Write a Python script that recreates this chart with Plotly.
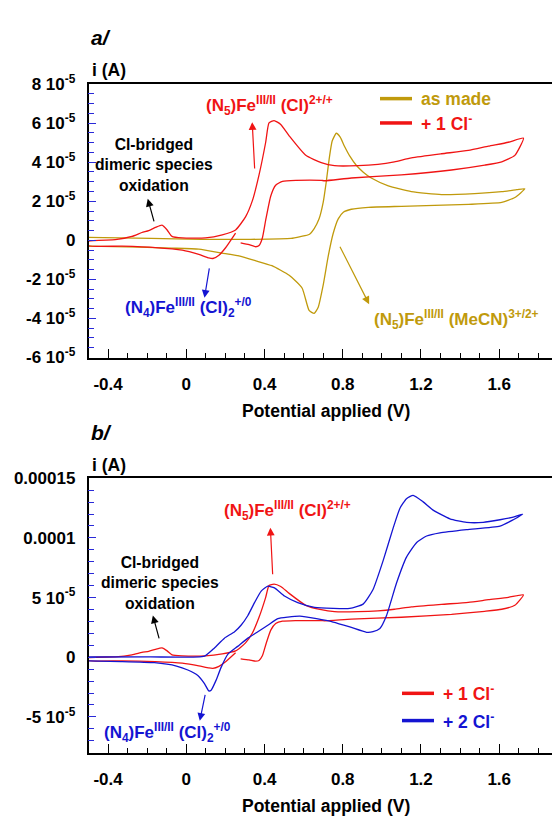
import numpy as np
import plotly.graph_objects as go

W, H = 552, 825
FONT = "Arial, Liberation Sans, sans-serif"

GOLD = "#c09a0c"
RED = "#f01414"
BLUE = "#1414d2"
TICKBLUE = "#2a2ad8"

# ---------------- data (potential in V, current in 1e-5 A) ----------------
# as made: forward scan to 1.73 V then back to -0.5 V
gold_v = [-0.5, -0.18, 0.074, 0.33, 0.536, 0.587, 0.628, 0.654, 0.679, 0.700, 0.715,
          0.731, 0.746, 0.767, 0.787, 0.808, 0.838, 0.869, 0.905, 0.946, 1.033, 1.151,
          1.305, 1.474, 1.613, 1.69, 1.731,
          1.68, 1.613, 1.444, 1.269, 1.10, 0.931, 0.844, 0.803, 0.777, 0.751, 0.726,
          0.700, 0.674, 0.654, 0.628, 0.592, 0.526, 0.438, 0.356, 0.269, 0.182, 0.064,
          -0.074, -0.244, -0.5]
gold_i = [0.15, 0.10, 0.05, 0.05, 0.10, 0.20, 0.30, 0.60, 1.10, 1.94, 2.94,
          4.19, 5.08, 5.48, 5.28, 4.83, 4.28, 3.84, 3.49, 3.19, 2.79, 2.49,
          2.34, 2.39, 2.49, 2.59, 2.64,
          2.19, 1.94, 1.84, 1.79, 1.74, 1.69, 1.59, 1.44, 1.10, 0.35, -0.80,
          -2.29, -3.44, -3.74, -3.59, -2.44, -1.79, -1.30, -1.05, -0.80, -0.65, -0.45,
          -0.40, -0.35, -0.30]

# + 1 Cl-: starts near 0.28 V, out to 1.72 V, back to -0.5 V, then up to 0.25 V
red_v = [0.278, 0.321, 0.355, 0.372, 0.389, 0.406, 0.432, 0.457, 0.492, 0.560, 0.690,
         0.707, 0.844, 1.10, 1.356, 1.526, 1.613, 1.68, 1.724,
         1.647, 1.545, 1.442, 1.305, 1.151, 1.064, 0.980, 0.878, 0.758, 0.690, 0.611,
         0.526, 0.483, 0.449, 0.423, 0.406, 0.372, 0.338, 0.303, 0.252, 0.184, 0.098,
         -0.021, -0.073, -0.098, -0.124, -0.158, -0.192, -0.227, -0.278, -0.363, -0.5,
         -0.5, -0.329, -0.158, -0.021, 0.064, 0.115, 0.136, 0.167, 0.201, 0.252]
red_i = [-0.13, -0.22, -0.33, -0.27, 0.12, 1.03, 2.27, 2.82, 3.02, 3.07, 3.07,
         3.05, 3.19, 3.35, 3.60, 3.85, 4.02, 4.35, 5.23,
         5.02, 4.82, 4.60, 4.43, 4.22, 4.02, 3.89, 3.82, 3.82, 3.98, 4.35,
         5.35, 5.93, 6.13, 6.01, 5.02, 3.35, 2.03, 1.20, 0.53, 0.28, 0.12,
         0.12, 0.20, 0.53, 0.78, 0.66, 0.50, 0.40, 0.20, 0.03, -0.05,
         -0.27, -0.30, -0.37, -0.50, -0.72, -0.90, -0.93, -0.76, -0.38, 0.37]

# + 2 Cl-
blue_v = [-0.5, -0.187, 0.093, 0.144, 0.195, 0.247, 0.280, 0.315, 0.349, 0.383, 0.417,
          0.451, 0.502, 0.570, 0.656, 0.751, 0.836, 0.904, 0.955, 1.007, 1.058, 1.092,
          1.126, 1.160, 1.211, 1.262, 1.348, 1.433, 1.518, 1.604, 1.672, 1.720,
          1.672, 1.604, 1.433, 1.297, 1.229, 1.178, 1.126, 1.075, 1.024, 0.990, 0.955,
          0.922, 0.836, 0.751, 0.666, 0.581, 0.519, 0.468, 0.417, 0.366, 0.315, 0.263,
          0.212, 0.178, 0.152, 0.127, 0.115, 0.093, 0.059, 0.008, -0.050, -0.163,
          -0.333, -0.5]
blue_i = [0.02, 0.03, 0.10, 0.78, 1.60, 2.14, 2.68, 3.50, 4.58, 5.54, 5.95,
          5.81, 5.13, 4.58, 4.18, 4.09, 4.09, 4.45, 5.68, 8.12, 10.84, 12.47,
          13.29, 13.56, 13.02, 12.33, 11.60, 11.30, 11.30, 11.52, 11.74, 11.98,
          11.52, 10.98, 10.70, 10.43, 10.16, 9.62, 8.39, 6.22, 3.50, 2.41, 2.14,
          2.09, 2.54, 2.95, 3.23, 3.44, 3.36, 3.23, 2.68, 2.14, 1.60, 0.91,
          0.24, -0.85, -1.94, -2.76, -2.82, -2.21, -1.53, -1.07, -0.74, -0.46,
          -0.36, -0.31]

UNIT = 1e-5  # currents above are in units of 1e-5 A

x_tickvals = [-0.4, 0, 0.4, 0.8, 1.2, 1.6]
x_ticktext = ["-0.4", "0", "0.4", "0.8", "1.2", "1.6"]
ya_tickvals = [-6e-5, -4e-5, -2e-5, 0, 2e-5, 4e-5, 6e-5, 8e-5]
ya_ticktext = ["-6 10<sup>-5</sup>", "-4 10<sup>-5</sup>", "-2 10<sup>-5</sup>", "0",
               "2 10<sup>-5</sup>", "4 10<sup>-5</sup>", "6 10<sup>-5</sup>", "8 10<sup>-5</sup>"]
yb_tickvals = [-5e-5, 0, 5e-5, 1e-4, 1.5e-4]
yb_ticktext = ["-5 10<sup>-5</sup>", "0", "5 10<sup>-5</sup>", "0.0001", "0.00015"]


def paper(px, py):
    return px / W, 1 - py / H


fig = go.Figure()
LW = 1.3
line_kw = dict(shape="spline", smoothing=0.5, width=LW)

fig.add_trace(go.Scatter(x=gold_v, y=np.array(gold_i) * UNIT, mode="lines", name="as made",
                         line=dict(color=GOLD, **line_kw), xaxis="x", yaxis="y"))
fig.add_trace(go.Scatter(x=red_v, y=np.array(red_i) * UNIT, mode="lines", name="+ 1 Cl-",
                         line=dict(color=RED, **line_kw), xaxis="x", yaxis="y"))
fig.add_trace(go.Scatter(x=red_v, y=np.array(red_i) * UNIT, mode="lines", name="+ 1 Cl-",
                         line=dict(color=RED, **line_kw), xaxis="x2", yaxis="y2"))
fig.add_trace(go.Scatter(x=blue_v, y=np.array(blue_i) * UNIT, mode="lines", name="+ 2 Cl-",
                         line=dict(color=BLUE, **line_kw), xaxis="x2", yaxis="y2"))

x0, _ = paper(88.5, 0)
top_dom = [1 - 355 / H, 1 - 74 / H]
bot_dom = [1 - 761 / H, 1 - 479 / H]

tickfont = dict(family=FONT, size=17, color="black", weight="bold")


def xaxis(anchor):
    return dict(domain=[x0, 1], anchor=anchor, range=[-0.5, 1.87],
                showline=True, linecolor="black", linewidth=1.5, mirror=True,
                showgrid=False, zeroline=False,
                ticks="inside", ticklen=9, tickwidth=1.2, tickcolor="black",
                tickmode="array", tickvals=x_tickvals, ticktext=x_ticktext,
                tickfont=tickfont, ticklabelstandoff=10,
                minor=dict(ticks="inside", ticklen=5, tickwidth=1, tickcolor="black",
                           tickmode="linear", tick0=0, dtick=0.1, showgrid=False))


def yaxis(anchor, dom, rng, tv, tt, minor_dt):
    return dict(domain=dom, anchor=anchor, range=rng,
                showline=True, linecolor="black", linewidth=1.5,
                showgrid=False, zeroline=False,
                ticks="inside", ticklen=8, tickwidth=1.2, tickcolor=TICKBLUE,
                tickmode="array", tickvals=tv, ticktext=tt,
                tickfont=tickfont, ticklabelstandoff=8,
                minor=dict(ticks="inside", ticklen=5.5, tickwidth=1, tickcolor=TICKBLUE,
                           tickmode="linear", tick0=0, dtick=minor_dt, showgrid=False))


fig.update_layout(
    width=W, height=825, autosize=False,
    margin=dict(l=0, r=0, t=0, b=0),
    paper_bgcolor="white", plot_bgcolor="white",
    showlegend=False,
    font=dict(family=FONT, color="black"),
    xaxis=xaxis("y"),
    yaxis=yaxis("x", top_dom, [-6e-5, 8e-5], ya_tickvals, ya_ticktext, 0.5e-5),
    xaxis2=xaxis("y2"),
    yaxis2=yaxis("x2", bot_dom, [-8e-5, 15e-5], yb_tickvals, yb_ticktext, 1e-5),
)

ann = []


def text(px, py, s, color="black", size=16, xanchor="center", style="normal"):
    x, y = paper(px, py)
    ann.append(dict(x=x, y=y, xref="paper", yref="paper", text=s, showarrow=False,
                    xanchor=xanchor, yanchor="middle",
                    font=dict(family=FONT, size=size, color=color, weight="bold", style=style)))


def arrow(xr, yr, tail, tip, color):
    ann.append(dict(xref=xr, yref=yr, axref=xr, ayref=yr,
                    x=tip[0], y=tip[1] * UNIT, ax=tail[0], ay=tail[1] * UNIT,
                    text="", showarrow=True, arrowhead=2, arrowsize=1.3,
                    arrowwidth=1.2, arrowcolor=color, standoff=0, startstandoff=0))


# panel labels and axis titles
text(101, 26, "a/", size=21, style="italic")
text(101, 432, "b/", size=21, style="italic")
text(90, 60, "i (A)", size=17.5, xanchor="left")
text(90, 465, "i (A)", size=17.5, xanchor="left")
text(326, 410, "Potential applied (V)", size=17.5)
text(326, 816, "Potential applied (V)", size=17.5)

N5CL = "(N<sub>5</sub>)Fe<sup>III/II</sup> (Cl)<sup>2+/+</sup>"
N4CL = "(N<sub>4</sub>)Fe<sup>III/II</sup> (Cl)<sub>2</sub><sup>+/0</sup>"
DIMER = "Cl-bridged<br>dimeric species<br>oxidation"

# panel a annotations
text(269, 96, N5CL, color=RED, size=17)
text(154, 157, DIMER, size=15.7)
text(188, 304, N4CL, color=BLUE, size=17)
text(456, 316, "(N<sub>5</sub>)Fe<sup>III/II</sup> (MeCN)<sup>3+/2+</sup>", color=GOLD, size=17)
arrow("x", "y", (0.35, 3.6), (0.337, 6.05), RED)
arrow("x", "y", (-0.163, 0.89), (-0.197, 2.13), "black")
arrow("x", "y", (0.119, -1.36), (0.093, -2.94), BLUE)
arrow("x", "y", (0.782, -0.25), (0.935, -3.27), GOLD)

# panel b annotations
text(287, 512, N5CL, color=RED, size=17)
text(160, 587, DIMER, size=15.7)
text(167, 740, N4CL, color=BLUE, size=17)
arrow("x2", "y2", (0.442, 6.83), (0.430, 10.85), RED)
arrow("x2", "y2", (-0.137, 1.46), (-0.171, 3.5), "black")
arrow("x2", "y2", (0.098, -3.03), (0.069, -5.33), BLUE)

# legends (sample line + coloured label)
shapes = []


def legend_entry(x_line, y, label, color, x_text):
    xa, ya = paper(x_line, y)
    xb, _ = paper(x_line + 32, y)
    shapes.append(dict(type="line", xref="paper", yref="paper", x0=xa, x1=xb, y0=ya, y1=ya,
                       line=dict(color=color, width=3.5)))
    text(x_text, y, label, color=color, size=17.5, xanchor="left")


legend_entry(380, 89, "as made", GOLD, 419)
legend_entry(380, 114, "+ 1 Cl<sup>-</sup>", RED, 419)
legend_entry(402, 700, "+ 1 Cl<sup>-</sup>", RED, 441)
legend_entry(402, 728, "+ 2 Cl<sup>-</sup>", BLUE, 441)

fig.update_layout(annotations=ann, shapes=shapes)
fig.write_html("out.html")
